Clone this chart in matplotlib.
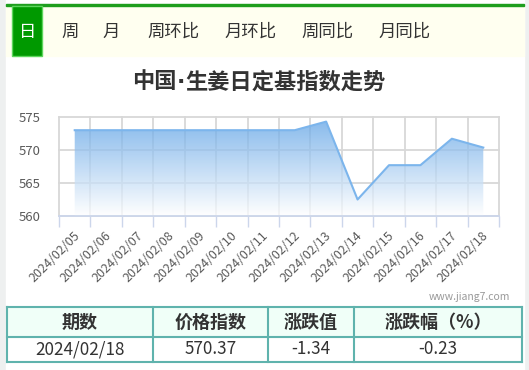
import numpy as np
import matplotlib.pyplot as plt
from matplotlib.patches import Rectangle
from matplotlib.colors import LinearSegmentedColormap
from matplotlib.transforms import ScaledTranslation

plt.rcParams['font.family'] = ['Noto Sans CJK SC', 'DejaVu Sans']

# 数据
dates = ['2024/02/05', '2024/02/06', '2024/02/07', '2024/02/08', '2024/02/09',
         '2024/02/10', '2024/02/11', '2024/02/12', '2024/02/13', '2024/02/14',
         '2024/02/15', '2024/02/16', '2024/02/17', '2024/02/18']
values = [573.0, 573.0, 573.0, 573.0, 573.0, 573.0, 573.0, 573.0,
          574.3, 562.5, 567.7, 567.7, 571.71, 570.37]
yticks = [560, 565, 570, 575]

tabs = ['日', '周', '月', '周环比', '月环比', '周同比', '月同比']
title_parts = ['中国', '·', '生姜日定基指数走势']
table_header = ['期数', '价格指数', '涨跌值', '涨跌幅（%）']
table_row = ['2024/02/18', '570.37', '-1.34', '-0.23']

W, H = 529, 370
fig = plt.figure(figsize=(W / 100, H / 100), dpi=100)

# 页面背景 (像素坐标)
bg = fig.add_axes([0, 0, 1, 1])
bg.set_xlim(0, W)
bg.set_ylim(H, 0)
bg.axis('off')
bg.add_patch(Rectangle((0, 0), W, H, color='#eef0f0'))
bg.add_patch(Rectangle((6, 0), 518, H, color='white'))
bg.add_patch(Rectangle((6, 6), 518, 50, color='#fffff0'))
bg.add_patch(Rectangle((6, 4), 518, 2.2, color='#1e9e1e'))
bg.add_patch(Rectangle((12, 6), 30, 50, facecolor='#009900', edgecolor='#5cd65c', lw=1))

tab_x = [27.5, 70, 111.5, 173, 250.5, 327.5, 405]
for i, (t, tx) in enumerate(zip(tabs, tab_x)):
    bg.text(tx, 32, t, ha='center', va='center', fontsize=12.5,
            color='white' if i == 0 else '#333333')

# 标题: 中点用窄字体, 分三段拼接
renderer = fig.canvas.get_renderer()
title_texts = []
for p in title_parts:
    fam = ['DejaVu Sans'] if p == '·' else ['Noto Sans CJK SC', 'DejaVu Sans']
    title_texts.append(bg.text(0, 82, p, ha='left', va='center', fontsize=16,
                               fontweight='bold', color='#333333', family=fam))
widths = [t.get_window_extent(renderer).width for t in title_texts]
cur = 259 - sum(widths) / 2
for t, w in zip(title_texts, widths):
    t.set_x(cur)
    cur += w

bg.text(510, 297, 'www.jiang7.com', ha='right', va='center', fontsize=7.5, color='#999999')

# 表格
col_edges = [6.5, 153, 268, 354, 522]
row_edges = [307, 337, 362]
border = '#5fb3ad'
bg.add_patch(Rectangle((col_edges[0], row_edges[0]), col_edges[-1] - col_edges[0],
                       row_edges[1] - row_edges[0], color='#f0fff8'))
for ye in row_edges:
    bg.plot([col_edges[0], col_edges[-1]], [ye, ye], color=border, lw=1.5)
for xe in col_edges:
    bg.plot([xe, xe], [row_edges[0], row_edges[-1]], color=border, lw=1.5)
for j in range(4):
    cx = (col_edges[j] + col_edges[j + 1]) / 2
    bg.text(cx, (row_edges[0] + row_edges[1]) / 2, table_header[j], ha='center', va='center',
            fontsize=13, fontweight='bold', color='#333333')
    bg.text(cx, (row_edges[1] + row_edges[2]) / 2, table_row[j], ha='center', va='center',
            fontsize=12.3, color='#333333')

# 折线面积图
ax = fig.add_axes([59 / W, (H - 216) / H, 440 / W, 99 / H])
ax.patch.set_visible(False)
x = np.arange(len(dates))
poly = ax.fill_between(x, values, yticks[0], color='none', lw=0)
cmap = LinearSegmentedColormap.from_list('g', ['#ffffff', '#5ca1e5'])
grad = np.linspace(1, 0, 256).reshape(-1, 1)
im = ax.imshow(grad, extent=[-0.5, len(dates) - 0.5, yticks[0], yticks[-1]],
               aspect='auto', cmap=cmap, alpha=0.75, zorder=2)
im.set_clip_path(poly.get_paths()[0], transform=ax.transData)
ax.plot(x, values, color='#7cb5ec', lw=1.5, zorder=3)

ax.set_xlim(-0.5, len(dates) - 0.5)
ax.set_ylim(yticks[0], yticks[-1])
ax.set_xticks(x)
ax.set_xticklabels(dates)
ax.set_xticks(np.arange(-0.5, len(dates), 1), minor=True)
ax.set_yticks(yticks)

ax.grid(which='minor', axis='x', color='#d8d8d8', lw=1.3, zorder=1)
ax.grid(which='major', axis='y', color='#d8d8d8', lw=1.3, zorder=1)
ax.grid(which='major', axis='x', visible=False)
for t in ax.xaxis.get_minor_ticks() + ax.yaxis.get_major_ticks():
    t.gridline.set_clip_on(False)

ax.tick_params(axis='x', which='major', length=0, pad=13, labelsize=9, labelcolor='#5a5a5a')
ax.tick_params(axis='x', which='minor', length=8, color='#ccd6eb', width=1)
ax.tick_params(axis='y', length=0, pad=13, labelsize=9.5, labelcolor='#5a5a5a')
shift = ScaledTranslation(0.03, 0, fig.dpi_scale_trans)
for lbl in ax.get_xticklabels():
    lbl.set_rotation(45)
    lbl.set_ha('right')
    lbl.set_va('center')
    lbl.set_rotation_mode('anchor')
    lbl.set_transform(lbl.get_transform() + shift)

for s in ['top', 'right', 'left']:
    ax.spines[s].set_visible(False)
ax.spines['bottom'].set_color('#ccd6eb')
ax.spines['bottom'].set_linewidth(1.3)
ax.spines['bottom'].set_zorder(4)

fig.savefig('out.png', dpi=100)
